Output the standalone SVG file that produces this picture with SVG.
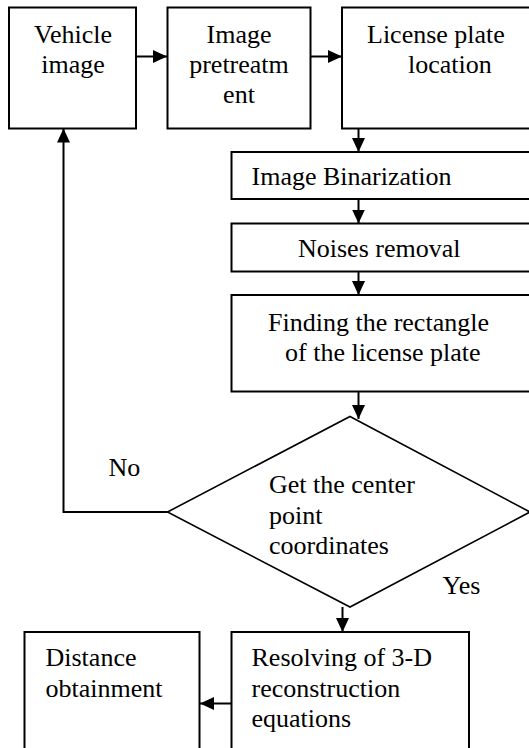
<svg xmlns="http://www.w3.org/2000/svg" width="529" height="748" viewBox="0 0 529 748">
<style>
.box{fill:#fff;stroke:#000;stroke-width:2}
.dia{fill:#fff;stroke:#000;stroke-width:1.6}
.t{font-size:26px;fill:#000}
.c{text-anchor:middle}
.e{fill:none;stroke:#000;stroke-width:2}
</style>
<defs>
<marker id="ah" markerUnits="userSpaceOnUse" markerWidth="14" markerHeight="13" refX="14" refY="6.5" orient="auto">
<path d="M0,0 L14,6.5 L0,13 Z" fill="#000"/>
</marker>
</defs>
<rect width="529" height="748" fill="#fff"/>
<g font-family="Liberation Serif, Times New Roman, DejaVu Serif, serif">
<g id="vehicle">
<rect class="box" x="9" y="7.5" width="127" height="121"/>
<text class="t c" x="73" y="43">Vehicle</text>
<text class="t c" x="73" y="72.5">image</text>
</g>
<g id="pretreatment">
<rect class="box" x="167.5" y="7.5" width="143" height="121"/>
<text class="t c" x="239" y="43">Image</text>
<text class="t c" x="239" y="72.5">pretreatm</text>
<text class="t c" x="239" y="102.5">ent</text>
</g>
<g id="location">
<rect class="box" x="342" y="7.5" width="200" height="121"/>
<text class="t" x="367" y="43">License plate</text>
<text class="t" x="408" y="72.5">location</text>
</g>
<g id="binarization">
<rect class="box" x="231.5" y="152" width="310" height="47"/>
<text class="t" x="251.5" y="185">Image Binarization</text>
</g>
<g id="noises">
<rect class="box" x="231.5" y="223.5" width="310" height="48"/>
<text class="t" x="298" y="257">Noises removal</text>
</g>
<g id="finding">
<rect class="box" x="231.5" y="295" width="310" height="96.5"/>
<text class="t" x="268" y="331">Finding the rectangle</text>
<text class="t" x="285" y="360.5">of the license plate</text>
</g>
<g id="decision">
<polygon class="dia" points="350,416.5 530,512 350,607 167.5,512"/>
<text class="t" x="269" y="493">Get the center</text>
<text class="t" x="269" y="523.5">point</text>
<text class="t" x="269" y="553.5">coordinates</text>
</g>
<g id="resolving">
<rect class="box" x="231.5" y="632" width="237.5" height="130"/>
<text class="t" x="251.5" y="666">Resolving of 3-D</text>
<text class="t" x="251.5" y="697">reconstruction</text>
<text class="t" x="251.5" y="727">equations</text>
</g>
<g id="distance">
<rect class="box" x="24.5" y="632" width="175" height="130"/>
<text class="t" x="45.5" y="666">Distance</text>
<text class="t" x="45.5" y="697">obtainment</text>
</g>
<g id="connectors">
<line class="e" x1="137" y1="56.5" x2="167" y2="56.5" marker-end="url(#ah)"/>
<line class="e" x1="311" y1="56.5" x2="342" y2="56.5" marker-end="url(#ah)"/>
<line class="e" x1="358.5" y1="128.5" x2="358.5" y2="152" marker-end="url(#ah)"/>
<line class="e" x1="358.5" y1="199" x2="358.5" y2="223.5" marker-end="url(#ah)"/>
<line class="e" x1="358.5" y1="271.5" x2="358.5" y2="295" marker-end="url(#ah)"/>
<line class="e" x1="358.5" y1="391.5" x2="358.5" y2="419" marker-end="url(#ah)"/>
<line class="e" x1="342.5" y1="607" x2="342.5" y2="632" marker-end="url(#ah)"/>
<line class="e" x1="231.5" y1="703.5" x2="200" y2="703.5" marker-end="url(#ah)"/>
<polyline class="e" points="167.5,512 63.5,512 63.5,128.5" marker-end="url(#ah)"/>
<text class="t" x="108.5" y="475.5">No</text>
<text class="t" x="442.5" y="593.5">Yes</text>
</g>
</g>
</svg>
